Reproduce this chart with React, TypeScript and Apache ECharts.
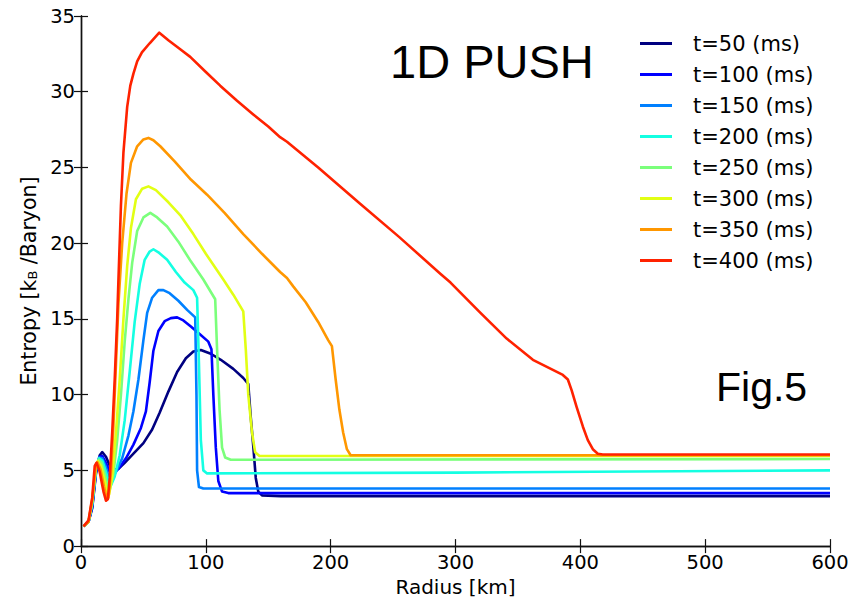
import React, { useEffect, useRef } from 'react';
import * as echarts from 'echarts';

// Radius [km] vs Entropy [kB/Baryon]
const t50: number[][] = [[2,1.3],[6,1.6],[9,2.5],[12,4.8],[15,6.0],[17,6.2],[20,5.9],[23,5.3],[25,5.0],[30,5.1],[35,5.5],[42,6.1],[50,6.8],[57,7.7],[63,8.8],[70,10.2],[77,11.5],[84,12.4],[90,12.85],[96,12.95],[104,12.7],[112,12.3],[122,11.7],[130,11.1],[134,10.7],[136,8.5],[138,6.6],[140,4.5],[142,3.6],[145,3.35],[160,3.3],[600,3.3]];
const t100: number[][] = [[2,1.3],[6,1.6],[9,2.6],[12,4.9],[15,5.9],[17,5.95],[20,5.5],[23,4.9],[25,4.7],[30,5.1],[36,5.8],[42,6.7],[48,7.8],[52,8.9],[55,10.8],[58,12.9],[62,14.2],[67,14.85],[72,15.05],[77,15.1],[82,14.9],[88,14.5],[95,14.0],[102,13.5],[104.5,13.0],[106,10],[108,6.5],[110,4.3],[113,3.6],[118,3.5],[600,3.5]];
const t150: number[][] = [[2,1.3],[6,1.6],[9,2.7],[12,5.0],[14.5,5.85],[17,5.8],[20,5.2],[22,4.6],[24,4.3],[28,4.9],[33,5.8],[38,7.3],[42,8.9],[46,11.0],[50,13.6],[53,15.4],[57,16.4],[62,16.9],[66,16.9],[71,16.7],[78,16.2],[85,15.6],[91.5,15.1],[92.5,10],[93,5.0],[94.5,3.9],[98,3.8],[600,3.8]];
const t200: number[][] = [[2,1.3],[6,1.6],[9,2.8],[12,5.1],[14.5,5.8],[17,5.65],[20,4.9],[22,4.3],[24,4.0],[27,4.6],[31,6.0],[35,8.3],[39,11.5],[43,14.8],[47,17.3],[51,18.9],[55,19.45],[58,19.6],[62,19.4],[69,18.9],[76,18.1],[83,17.4],[90,16.9],[93,16.4],[94.5,12],[96,7],[98,5.0],[101,4.8],[300,4.85],[600,5.0]];
const t250: number[][] = [[2,1.3],[6,1.6],[9,2.9],[12,5.2],[14,5.7],[16.5,5.5],[19.5,4.6],[21.5,3.9],[23,3.7],[26,4.8],[29,7.0],[32,10.0],[35,13.5],[38,16.3],[41,18.7],[45,20.8],[50,21.7],[55.5,22.0],[61,21.7],[69,21.1],[78,20.1],[88,18.8],[98,17.6],[107.5,16.3],[109,13],[111,9],[113,6.5],[115.5,5.85],[120,5.7],[600,5.75]];
const t300: number[][] = [[2,1.3],[6,1.6],[9,3.0],[12,5.3],[13.5,5.6],[16,5.3],[19,4.3],[21,3.6],[22.5,3.4],[25,4.6],[28,7.5],[31,11.0],[34,15.0],[37,18.5],[40,21.0],[44,22.9],[49,23.6],[54,23.75],[60,23.5],[70,22.7],[80,21.8],[90,20.6],[100,19.3],[114,17.6],[122,16.6],[130,15.5],[132,13],[134,10],[137,7.5],[139.5,6.2],[143,5.95],[600,5.95]];
const t350: number[][] = [[2,1.3],[6,1.6],[9,3.1],[12,5.4],[13,5.55],[15.5,5.1],[18.5,3.9],[20.5,3.2],[22,3.2],[24,4.8],[26,8.0],[28,12.0],[30,16.0],[33,20.0],[36.5,23.3],[40,25.3],[45,26.4],[50,26.85],[54,26.95],[58,26.8],[63.5,26.4],[75,25.4],[88,24.2],[101,23.2],[115,22.0],[130,20.6],[145,19.3],[159.5,18.1],[165,17.7],[170,17.15],[180,16.1],[190,14.8],[198,13.6],[201,13.2],[204,11],[207,9],[210,7.5],[213,6.4],[216,6.0],[600,6.0]];
const t400: number[][] = [[2,1.3],[6,1.7],[9,3.2],[11,5.3],[12.5,5.5],[15,4.9],[18,3.6],[20,3.0],[21.5,3.1],[23,4.5],[25,7.5],[27,11.0],[29,15.0],[30,17.6],[32,22.5],[34,26.0],[37,29.0],[39.5,30.4],[42,31.2],[45,32.0],[48.8,32.6],[55,33.2],[62.7,33.9],[70,33.4],[79.5,32.8],[87.5,32.3],[100,31.3],[111.5,30.4],[125,29.4],[138,28.5],[150,27.7],[159.5,27.0],[165,26.7],[190,25.0],[223.6,22.6],[255,20.4],[287.6,18.0],[296,17.4],[320,15.4],[341,13.7],[362,12.3],[386,11.3],[390,11.0],[393,10.3],[397,9.2],[402,7.9],[406,7.0],[410,6.4],[414,6.1],[418,6.05],[600,6.05]];

const seriesData = [t50, t100, t150, t200, t250, t300, t350, t400];
const seriesNames = ['t=50 (ms)', 't=100 (ms)', 't=150 (ms)', 't=200 (ms)', 't=250 (ms)', 't=300 (ms)', 't=350 (ms)', 't=400 (ms)'];
const seriesColors = ['#000080', '#0000ff', '#0080ff', '#14ffe2', '#7bff7b', '#e2ff14', '#ff9700', '#ff2200'];

const xMin = 0, xMax = 600, xStep = 100;
const yMin = 0, yMax = 35, yStep = 5;

export default function App() {
  const ref = useRef<HTMLDivElement>(null);
  useEffect(() => {
    if (!ref.current) return;
    const chart = echarts.init(ref.current, null, { renderer: 'svg' });
    const font = 'DejaVu Sans';
    const axisCommon = {
      axisLine: { show: true, lineStyle: { color: '#111', width: 1.4 } },
      axisTick: { show: true, inside: true, length: 7, lineStyle: { color: '#111', width: 1.2 } },
      splitLine: { show: false },
    };
    chart.setOption({
      animation: false,
      backgroundColor: '#fff',
      grid: { left: 81, right: 37, top: 16, bottom: 55, containLabel: false },
      legend: {
        orient: 'vertical',
        left: 640,
        top: 33,
        padding: 0,
        itemWidth: 32,
        itemHeight: 3,
        itemGap: 10,
        icon: 'rect',
        textStyle: { fontFamily: font, fontSize: 21, color: '#000', padding: [0, 0, 0, 16] },
        data: seriesNames,
      },
      xAxis: [
        {
          type: 'value', min: xMin, max: xMax, interval: xStep, position: 'bottom',
          name: 'Radius [km]', nameLocation: 'middle', nameGap: 22,
          nameTextStyle: { fontFamily: font, fontSize: 20, color: '#000' },
          axisLabel: { fontFamily: font, fontSize: 19.5, color: '#000', margin: 6 },
          ...axisCommon,
        },
        {
          type: 'value', min: xMin, max: xMax, interval: xStep, position: 'top',
          axisLabel: { show: false },
          ...axisCommon,
        },
      ],
      yAxis: [
        {
          type: 'value', min: yMin, max: yMax, interval: yStep, position: 'left',
          name: 'Entropy [k{b|B} /Baryon]', nameLocation: 'middle', nameGap: 41,
          nameTextStyle: {
            fontFamily: font, fontSize: 20.5, color: '#000',
            rich: { b: { fontFamily: font, fontSize: 13, color: '#000', verticalAlign: 'bottom', padding: [8, 0, 0, 0] } },
          },
          axisLabel: { fontFamily: font, fontSize: 19.5, color: '#000', margin: 6 },
          ...axisCommon,
        },
        {
          type: 'value', min: yMin, max: yMax, interval: yStep, position: 'right',
          axisLabel: { show: false },
          ...axisCommon,
        },
      ],
      series: seriesData.map((d, i) => ({
        type: 'line',
        name: seriesNames[i],
        data: d,
        xAxisIndex: 0,
        yAxisIndex: 0,
        symbol: 'none',
        showSymbol: false,
        smooth: false,
        z: 2 + i,
        color: seriesColors[i],
        lineStyle: { color: seriesColors[i], width: 2.6, join: 'round' },
      })),
      graphic: [
        {
          type: 'text', left: 390, top: 38, z: 20,
          style: { text: '1D PUSH', fontFamily: 'Liberation Sans', fontSize: 47, fill: '#000' },
        },
        {
          type: 'text', left: 716, top: 366, z: 20,
          style: { text: 'Fig.5', fontFamily: 'Liberation Sans', fontSize: 41, fill: '#000' },
        },
      ],
    });
    return () => chart.dispose();
  }, []);
  return <div ref={ref} style={{ position: 'fixed', left: 0, top: 0, width: 867, height: 602 }} />;
}
